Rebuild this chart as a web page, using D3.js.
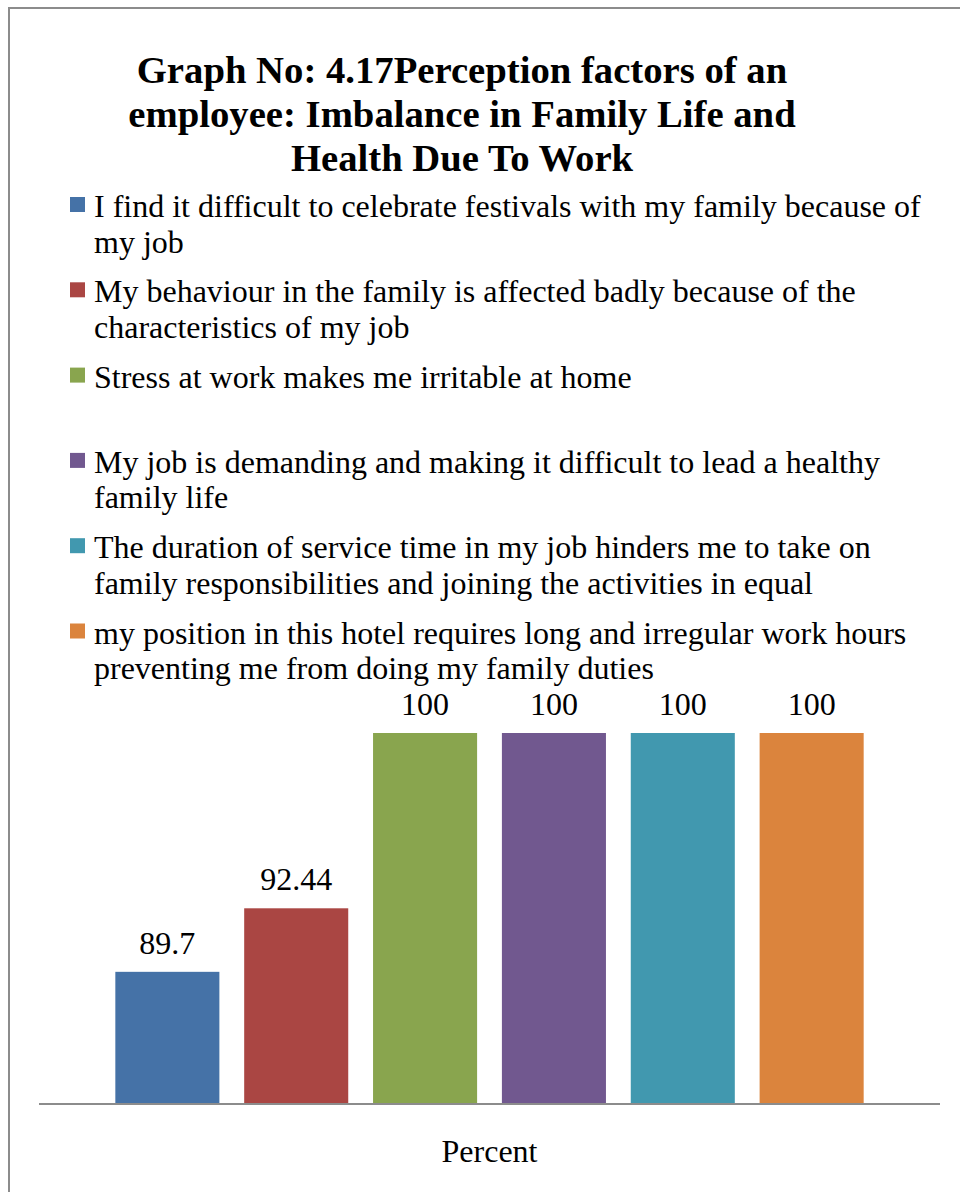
<!DOCTYPE html>
<html>
<head>
<meta charset="utf-8">
<script src="https://cdn.jsdelivr.net/npm/d3@7"></script>
<style>
  html, body { margin: 0; padding: 0; background: #fff; }
  svg { display: block; }
  text { font-family: "Liberation Serif", "Times New Roman", serif; fill: #000; }
</style>
</head>
<body>
<svg id="chart" width="960" height="1192"></svg>
<script>
// Chart data
const titleLines = [
  "Graph No: 4.17Perception factors of an",
  "employee: Imbalance in Family Life and",
  "Health Due To Work"
];
const categories = ["Percent"];
const seriesNames = [
  ["I find it difficult to celebrate festivals with my family because of", "my job"],
  ["My behaviour in the family is affected badly because of the", "characteristics of my job"],
  ["Stress at work makes me irritable at home"],
  ["My job is demanding and making it difficult to lead a healthy", "family life"],
  ["The duration of service time in my job hinders me to take on", "family responsibilities and joining the activities in equal"],
  ["my position in this hotel requires long and irregular work hours", "preventing me from doing my family duties"]
];
const seriesValues = [89.7, 92.44, 100, 100, 100, 100];
const seriesColors = ["#4572A7", "#AA4643", "#89A54E", "#71588F", "#4198AF", "#DB843D"];
const yDomain = [84, 100];

const svg = d3.select("#chart");

// Outer chart frame (right and bottom edges fall outside the view)
svg.append("rect")
  .attr("x", 9).attr("y", 8)
  .attr("width", 1000).attr("height", 1300)
  .attr("fill", "none")
  .attr("stroke", "#8c8c8c")
  .attr("stroke-width", 2);

// Title
const title = svg.append("g");
titleLines.forEach((line, i) => {
  title.append("text")
    .attr("x", 462)
    .attr("y", 83 + i * 44)
    .attr("text-anchor", "middle")
    .attr("font-size", 38.7)
    .attr("font-weight", "bold")
    .text(line);
});

// Legend
const legend = svg.append("g");
seriesNames.forEach((lines, i) => {
  const top = 197 + i * 85.3;
  legend.append("rect")
    .attr("x", 70).attr("y", top)
    .attr("width", 15).attr("height", 15)
    .attr("fill", seriesColors[i]);
  lines.forEach((ln, j) => {
    legend.append("text")
      .attr("x", 94)
      .attr("y", top + 20 + j * 35.5)
      .attr("font-size", 32)
      .text(ln);
  });
});

// Scales
const plotLeft = 39, plotRight = 940, baseY = 1104, topY = 733;
const x0 = d3.scaleBand().domain(categories).range([plotLeft, plotRight]).paddingInner(0).paddingOuter(0.102);
const x1 = d3.scaleBand().domain(d3.range(seriesValues.length)).range([0, x0.bandwidth()]).paddingInner(0.1925).paddingOuter(0);
const y = d3.scaleLinear().domain(yDomain).range([baseY, topY]);

// Bars
const bars = svg.append("g");
bars.selectAll("rect")
  .data(seriesValues)
  .join("rect")
  .attr("x", (d, i) => x0(categories[0]) + x1(i))
  .attr("y", d => y(d))
  .attr("width", x1.bandwidth())
  .attr("height", d => baseY - y(d))
  .attr("fill", (d, i) => seriesColors[i]);

// Value labels
bars.selectAll("text")
  .data(seriesValues)
  .join("text")
  .attr("x", (d, i) => x0(categories[0]) + x1(i) + x1.bandwidth() / 2)
  .attr("y", d => y(d) - 18)
  .attr("text-anchor", "middle")
  .attr("font-size", 32)
  .text(d => d);

// Category axis
const xAxis = svg.append("g")
  .attr("transform", `translate(0,${baseY})`)
  .call(d3.axisBottom(x0).tickSize(0).tickPadding(0));
xAxis.select(".domain").attr("stroke", "#8c8c8c").attr("stroke-width", 2)
  .attr("d", `M${plotLeft},0H${plotRight}`);
xAxis.selectAll(".tick text")
  .attr("font-size", 32)
  .attr("font-family", "Liberation Serif, Times New Roman, serif")
  .attr("fill", "#000")
  .attr("y", 58)
  .attr("dy", null);
</script>
</body>
</html>
